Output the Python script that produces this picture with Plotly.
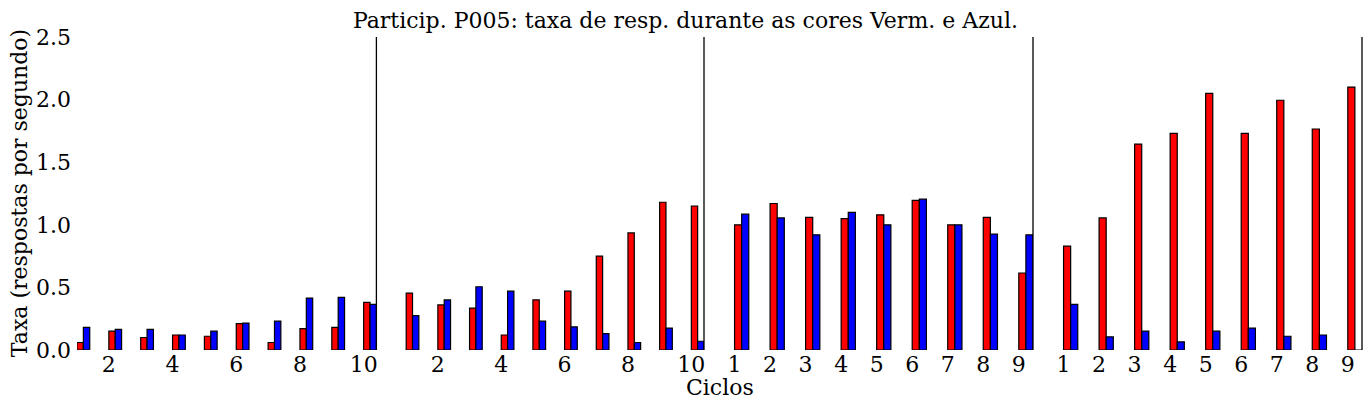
import plotly.graph_objects as go
from plotly.subplots import make_subplots

# ciclos de cada fase
ciclos_f1 = list(range(1, 11))
ciclos_f2 = list(range(1, 11))
ciclos_f3 = list(range(1, 10))
ciclos_f4 = list(range(1, 10))

# taxa (respostas por segundo) - vermelho / azul
verm_f1 = [0.06, 0.15, 0.10, 0.12, 0.11, 0.21, 0.06, 0.17, 0.18, 0.38]
azul_f1 = [0.18, 0.165, 0.165, 0.12, 0.15, 0.215, 0.23, 0.415, 0.42, 0.365]

verm_f2 = [0.455, 0.36, 0.335, 0.12, 0.40, 0.47, 0.75, 0.935, 1.18, 1.15]
azul_f2 = [0.275, 0.40, 0.505, 0.47, 0.23, 0.185, 0.13, 0.06, 0.175, 0.07]

verm_f3 = [1.0, 1.17, 1.06, 1.05, 1.08, 1.195, 1.0, 1.06, 0.615]
azul_f3 = [1.085, 1.055, 0.92, 1.10, 1.0, 1.205, 1.0, 0.925, 0.92]

verm_f4 = [0.83, 1.055, 1.645, 1.73, 2.05, 1.73, 1.995, 1.765, 2.10]
azul_f4 = [0.365, 0.105, 0.15, 0.065, 0.15, 0.175, 0.11, 0.12, 0.0]

ticks_f1 = [2, 4, 6, 8, 10]
ticks_f2 = [2, 4, 6, 8, 10]
ticks_f3 = ciclos_f3
ticks_f4 = ciclos_f4

yticks = [0.0, 0.5, 1.0, 1.5, 2.0, 2.5]

fases = [
    (ciclos_f1, verm_f1, azul_f1, ticks_f1, [1.0, 10.4]),
    (ciclos_f2, verm_f2, azul_f2, ticks_f2, [0.06, 10.4]),
    (ciclos_f3, verm_f3, azul_f3, ticks_f3, [0.14, 9.4]),
    (ciclos_f4, verm_f4, azul_f4, ticks_f4, [0.14, 9.4]),
]

FONT = "DejaVu Serif"
FS = 22

fig = make_subplots(rows=1, cols=4, shared_yaxes=True, horizontal_spacing=0,
                    column_widths=[299.4, 327.6, 329, 329])

W = 0.2
for i, (cic, verm, azul, tks, rng) in enumerate(fases, 1):
    fig.add_trace(go.Bar(x=cic, y=verm, width=W, offset=0,
                         marker=dict(color="#ff0000", line=dict(color="black", width=1.2)),
                         showlegend=False), row=1, col=i)
    fig.add_trace(go.Bar(x=cic, y=azul, width=W, offset=W,
                         marker=dict(color="#0000ff", line=dict(color="black", width=1.2)),
                         showlegend=False), row=1, col=i)
    fig.update_xaxes(range=rng, tickvals=tks, ticktext=[str(t) for t in tks],
                     showgrid=False, zeroline=False, showline=False, ticks="",
                     ticklabelstandoff=-1,
                     tickfont=dict(family=FONT, size=FS, color="black"),
                     row=1, col=i)
    # linha vertical separando as fases
    xref = "x domain" if i == 1 else "x%d domain" % i
    fig.add_shape(type="line", xref=xref, yref="y", x0=1, x1=1, y0=0, y1=2.5,
                  line=dict(color="black", width=1.3))

fig.update_yaxes(range=[0, 2.5], tickvals=yticks, tickformat=".1f",
                 showgrid=False, zeroline=False, showline=False, ticks="",
                 ticklabelstandoff=5,
                 tickfont=dict(family=FONT, size=FS, color="black"))

fig.add_annotation(text="Ciclos", xref="paper", yref="paper", x=0.5, y=-0.121,
                   xanchor="center", yanchor="middle", showarrow=False,
                   font=dict(family=FONT, size=FS, color="black"))
fig.add_annotation(text="Taxa (respostas por segundo)", xref="paper", yref="paper",
                   x=-0.0446, y=0.5, xanchor="center", yanchor="middle", textangle=-90,
                   showarrow=False, font=dict(family=FONT, size=FS, color="black"))

# a pagina tem margem de 8px no body
fig.update_layout(
    width=1363, height=401,
    margin=dict(l=69, r=9, t=29, b=59),
    barmode="overlay",
    plot_bgcolor="white", paper_bgcolor="white",
    title=dict(text="Particip. P005: taxa de resp. durante as cores Verm. e Azul.",
               xref="container", x=0.497, xanchor="center",
               yref="container", y=0.970, yanchor="middle",
               font=dict(family=FONT, size=FS, color="black")),
)

fig.write_html("out.html")
